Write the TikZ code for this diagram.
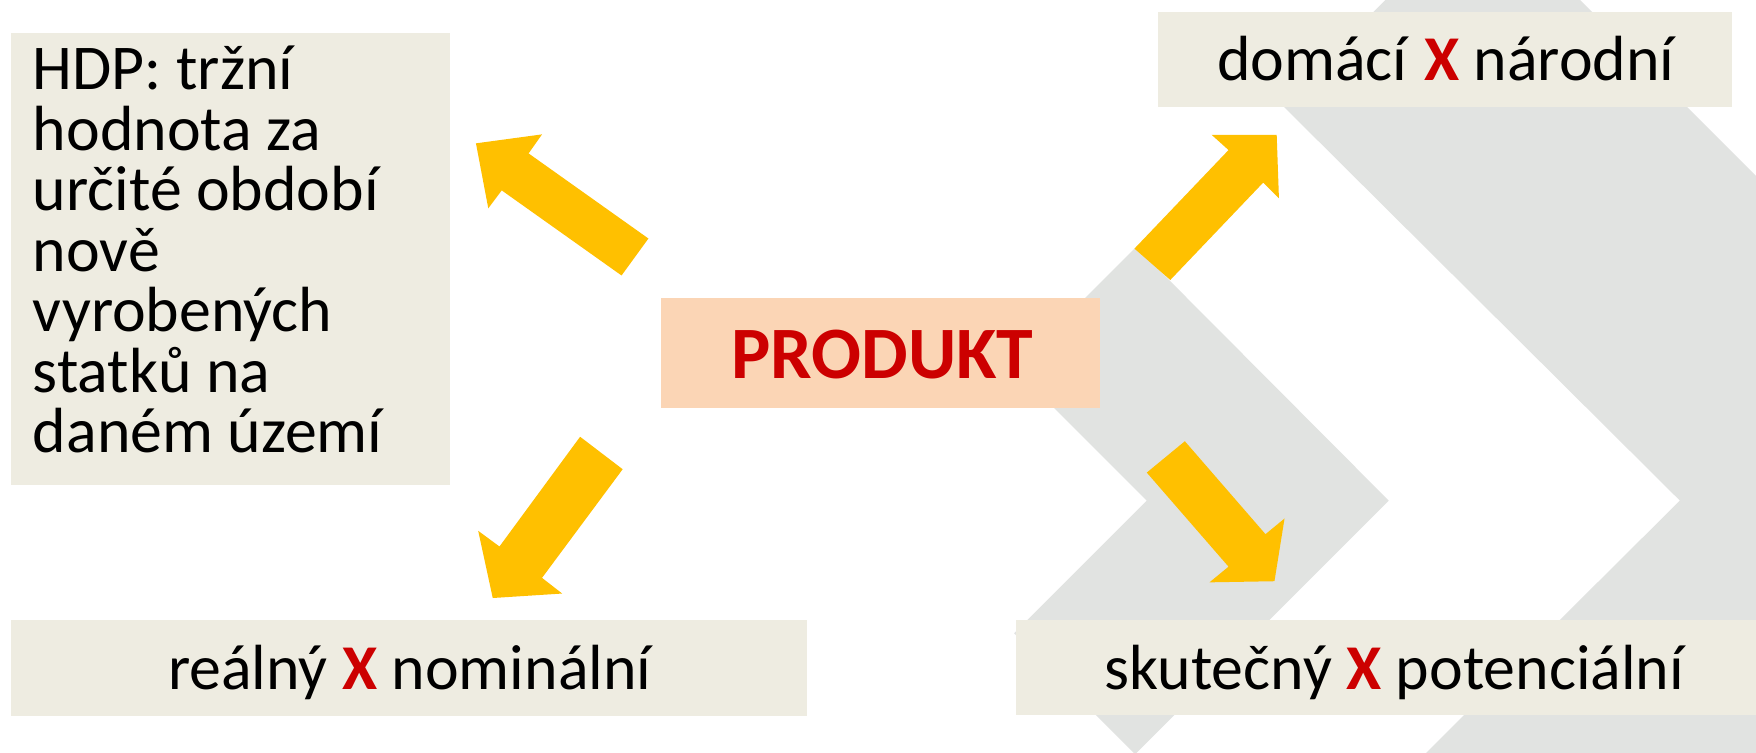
\documentclass[tikz,border=0pt]{standalone}
\usepackage{fontspec}
\setmainfont{Carlito}
\definecolor{boxbg}{RGB}{238,236,225}
\definecolor{chev}{RGB}{225,227,225}
\definecolor{peach}{RGB}{251,213,181}
\definecolor{ayellow}{RGB}{255,192,0}
\definecolor{xred}{RGB}{204,0,0}
\newcommand\redX{\textbf{\textcolor{xred}{X}}}
\begin{document}
\begin{tikzpicture}[x=0.5pt,y=-0.5pt,
  bx/.style={fill=boxbg, inner sep=0pt, anchor=north west, draw=none},
  lbl/.style={inner sep=0pt, anchor=base, font=\fontsize{28.5}{34}\selectfont},
  chevfill/.style={fill=chev, draw=none},
  blockarrow/.style={fill=ayellow, draw=none}]
\useasboundingbox (0,0) rectangle (1568,672);
\clip (0,0) rectangle (1568,672);
\fill[white] (0,0) rectangle (1568,672);
% background chevrons
\path[chevfill] (1324,-87) -- (1858,447) -- (1324,981) -- (1144,801) -- (1500,447) -- (1144,93) -- cycle;
\path[chevfill] (1014.5,220.5) -- (1240,447) -- (1013.5,673.5) -- (905.5,565.5) -- (1024,447) -- (906,329) -- cycle;
% boxes
\node[bx, minimum width=196pt, minimum height=202pt] (hdp) at (9,29) {};
\node[bx, minimum width=256pt, minimum height=42.5pt] (dom) at (1034,10) {};
\node[bx, minimum width=355.5pt, minimum height=43pt] (real) at (9,553) {};
\node[bx, minimum width=338pt, minimum height=42.5pt] (skut) at (907,553) {};
\node[fill=peach, inner sep=0pt, anchor=north west, minimum width=196pt, minimum height=49pt] (prod) at (590,266) {};
% texts
\node[inner sep=0pt, anchor=base west, font=\fontsize{28.5}{27}\selectfont] (hdptext) at (29,80)
  {\lineskiplimit=-100pt\baselineskip=27.02pt\vtop{\halign{#\hfil\cr
   HDP: tržní\cr hodnota za\cr určité období\cr nově\cr vyrobených\cr statků na\cr daném území\cr}}};
\node[lbl] (domtext) at (1291,72.3) {domácí \redX{} národní};
\node[lbl] (realtext) at (366,615.5) {reálný \redX{} nominální};
\node[lbl] (skuttext) at (1245,615.5) {skutečný \redX{} potenciální};
\node[inner sep=0pt, anchor=base, font=\fontsize{33}{40}\selectfont\bfseries, text=xred] (prodtext) at (788,338.4) {PRODUKT};
% block arrows
\path[blockarrow] (425,128) -- (484,120) -- (472,137) -- (579,213) -- (555,246) -- (448,170) -- (436,186) -- cycle;
\path[blockarrow] (518,390) -- (556,419) -- (484,516) -- (502,530) -- (440,534) -- (427,474) -- (446,488) -- cycle;
\path[blockarrow] (1013,222) -- (1097,134) -- (1082,120.5) -- (1140,120.5) -- (1142,177) -- (1128,163) -- (1045,250) -- cycle;
\path[blockarrow] (1024,422) -- (1058,394) -- (1130,477) -- (1147,463) -- (1138,519) -- (1080,520) -- (1097,506) -- cycle;
\end{tikzpicture}
\end{document}
